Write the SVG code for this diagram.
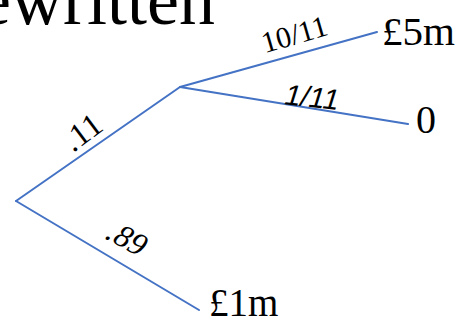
<svg xmlns="http://www.w3.org/2000/svg" width="464" height="324" viewBox="0 0 464 324">
<style>
.t{font-family:"Liberation Serif","Times New Roman",serif;fill:#000}
.e{stroke:#4472C4;stroke-width:2;fill:none;stroke-linecap:round}
</style>
<rect width="464" height="324" fill="#fff"/>
<text class="t" x="-21" y="24" font-size="72">ewritten</text>
<g id="connectors">
<line class="e" x1="16" y1="201" x2="180" y2="87"/>
<line class="e" x1="16" y1="201" x2="199" y2="310"/>
<line class="e" x1="180" y1="87" x2="377" y2="32"/>
<line class="e" x1="180" y1="87" x2="408" y2="124"/>
<text class="t" font-size="33" text-anchor="middle" transform="translate(89,141) rotate(-37)">.11</text>
<text class="t" font-size="32" text-anchor="middle" transform="translate(121,247) rotate(28) skewX(-10)">.89</text>
<text class="t" font-size="30" text-anchor="middle" transform="translate(297,44) rotate(-16)">10/11</text>
<text font-family="Liberation Sans, Arial, sans-serif" font-style="italic" font-size="29" text-anchor="middle" transform="translate(311,107) rotate(6)">1/11</text>
</g>
<g id="n5m"><text class="t" x="382" y="45" font-size="41">£5m</text></g>
<g id="n0"><text class="t" x="416" y="133" font-size="40">0</text></g>
<g id="n1m"><text class="t" x="209" y="316" font-size="39">£1m</text></g>
</svg>
